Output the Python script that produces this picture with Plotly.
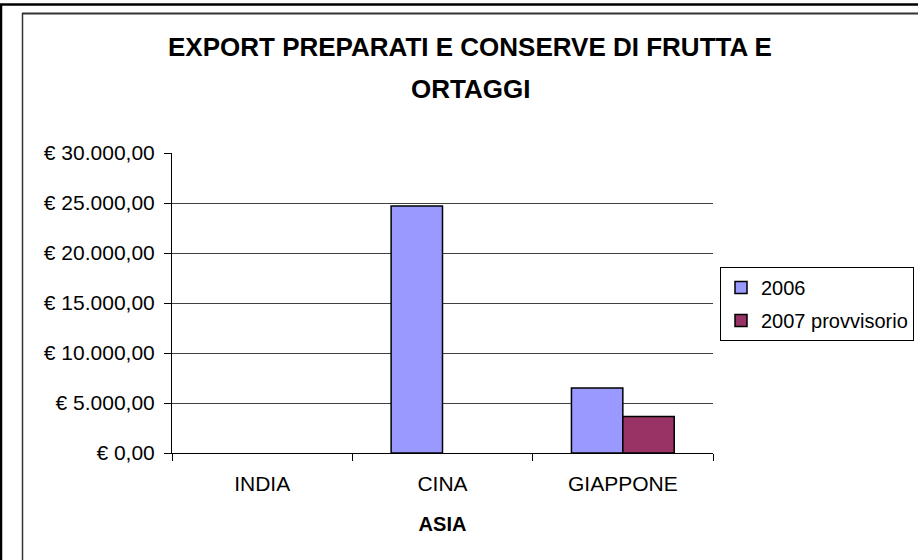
import plotly.graph_objects as go

# categories and series
categories = ["INDIA", "CINA", "GIAPPONE"]
values_2006 = [None, 24700, 6500]
values_2007 = [None, None, 3650]
series_names = ["2006", "2007 provvisorio"]

tick_vals = [0, 5000, 10000, 15000, 20000, 25000, 30000]
tick_text = ["€ 0,00", "€ 5.000,00", "€ 10.000,00", "€ 15.000,00",
             "€ 20.000,00", "€ 25.000,00", "€ 30.000,00"]

FONT = "Liberation Sans, Arial, sans-serif"
W, H = 918, 560
L, R, T, B = 172, 205, 153, 107


def px_x(p):
    # pixel -> paper x
    return (p - L) / (W - L - R)


def px_y(p):
    # pixel -> paper y
    return (H - B - p) / (H - T - B)


fig = go.Figure()
fig.add_trace(go.Bar(
    x=categories, y=values_2006, name=series_names[0], legendgroup="a",
    marker=dict(color="#9999FF", line=dict(color="#000000", width=1.5)),
))
fig.add_trace(go.Bar(
    x=categories, y=values_2007, name=series_names[1], legendgroup="b",
    marker=dict(color="#993366", line=dict(color="#000000", width=1.5)),
))

fig.update_layout(
    width=W, height=H,
    margin=dict(l=L, r=R, t=T, b=B, autoexpand=False),
    paper_bgcolor="white", plot_bgcolor="white",
    font=dict(family=FONT, size=21, color="#000000"),
    barmode="group", bargap=0.43, bargroupgap=0,
    showlegend=True,
    legend=dict(
        x=px_x(720), y=px_y(267), xanchor="left", yanchor="top",
        bordercolor="#000000", borderwidth=1, bgcolor="white",
        font=dict(size=20), itemwidth=30, tracegroupgap=4,
        traceorder="grouped",
    ),
)

fig.update_xaxes(
    showline=True, linecolor="#000000", linewidth=1,
    ticks="outside", tickson="boundaries", ticklen=7, tickcolor="#000000",
    ticklabelstandoff=12,
    showgrid=False,
    title=dict(text="<b>ASIA</b>", font=dict(size=20), standoff=22),
)
fig.update_yaxes(
    range=[0, 30000],
    tickvals=tick_vals, ticktext=tick_text,
    showline=True, linecolor="#000000", linewidth=1,
    ticks="outside", ticklen=7, tickcolor="#000000",
    ticklabelstandoff=5,
    showgrid=True, gridcolor="#404040", gridwidth=1,
    zeroline=False,
)

# title, two centred lines
fig.add_annotation(text="<b>EXPORT PREPARATI E CONSERVE DI FRUTTA E</b>",
                   xref="paper", yref="paper", x=px_x(470), y=px_y(47),
                   xanchor="center", yanchor="middle",
                   showarrow=False, font=dict(size=26))
fig.add_annotation(text="<b>ORTAGGI</b>",
                   xref="paper", yref="paper", x=px_x(470), y=px_y(89),
                   xanchor="center", yanchor="middle",
                   showarrow=False, font=dict(size=26))

# chart frame lines (inner grey frame, outer black border)
fig.add_shape(type="line", xref="paper", yref="paper",
              x0=px_x(22), x1=px_x(W + 5), y0=px_y(13.5), y1=px_y(13.5),
              line=dict(color="#333333", width=2))
fig.add_shape(type="line", xref="paper", yref="paper",
              x0=px_x(22.5), x1=px_x(22.5), y0=px_y(13), y1=px_y(H + 5),
              line=dict(color="#333333", width=1.5))
fig.add_shape(type="line", xref="paper", yref="paper",
              x0=px_x(0), x1=px_x(W + 5), y0=px_y(4.5), y1=px_y(4.5),
              line=dict(color="#000000", width=2.5))
fig.add_shape(type="line", xref="paper", yref="paper",
              x0=px_x(1), x1=px_x(1), y0=px_y(4), y1=px_y(H + 5),
              line=dict(color="#000000", width=2.5))

# drop the default page margin so the figure sits at the window corner
fig.write_html("out.html", config={"displayModeBar": False},
               post_script="document.body.style.margin='0px';")
